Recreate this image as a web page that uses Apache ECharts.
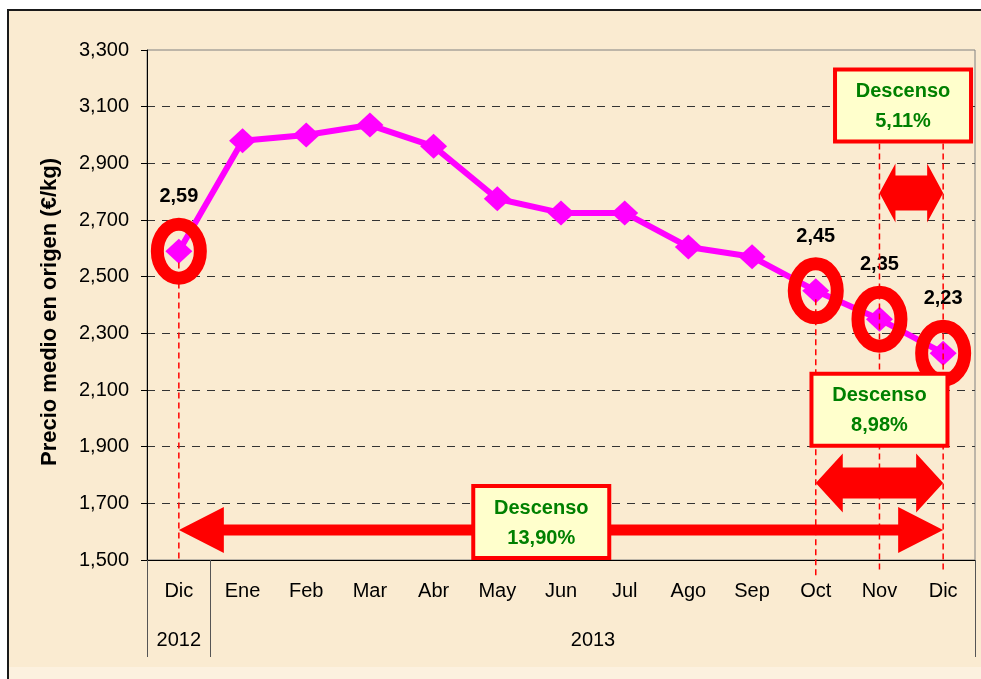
<!DOCTYPE html>
<html>
<head>
<meta charset="utf-8">
<script src="https://cdn.jsdelivr.net/npm/echarts@6/dist/echarts.min.js"></script>
<style>
  html, body { margin: 0; padding: 0; background: #fff; }
  #main { width: 981px; height: 679px; }
</style>
</head>
<body>
<div id="main"></div>
<script>
// datos
const months = ['Dic', 'Ene', 'Feb', 'Mar', 'Abr', 'May', 'Jun', 'Jul', 'Ago', 'Sep', 'Oct', 'Nov', 'Dic'];
const years = ['2012', '', '', '', '', '', '2013', '', '', '', '', '', ''];
const prices = [2.59, 2.98, 3.00, 3.035, 2.96, 2.775, 2.725, 2.725, 2.605, 2.57, 2.45, 2.35, 2.23];
const yMin = 1.5, yMax = 3.3, yStep = 0.2;
const markedIdx = [0, 10, 11, 12];
// guias verticales: [categoria, valor arriba, valor abajo]
const guides = [[0, 2.55, 1.493], [10, 2.42, 1.444], [11, 2.97, 1.458], [12, 2.97, 1.465]];
// flechas: [desde, hasta, valor]
const arrows = [[0, 12, 1.606], [10, 12, 1.772], [11, 12, 2.795]];
// cuadros: [posicion categoria, valor, texto]
const boxes = [[5.69, 1.634, '13,90%'], [11, 2.03, '8,98%'], [11.37, 3.104, '5,11%']];

const fmt = (v, d) => v.toFixed(d).replace('.', ',');
const FONT = '"Liberation Sans", Arial, sans-serif';

// punto en pixeles (admite posiciones entre categorias)
function pt(api, pos, val) {
  const i = Math.floor(pos), f = pos - i;
  const a = api.coord([i, val]);
  if (!f) return a;
  const b = api.coord([i + 1, val]);
  return [a[0] + (b[0] - a[0]) * f, a[1]];
}

const arrowStyle = [
  { shaft: 11, head: 45, width: 46 },
  { shaft: 31, head: 27, width: 59 },
  { shaft: 35, head: 16, width: 59 }
];

let chart = echarts.init(document.getElementById('main'));
let option = {
  animation: false,
  graphic: [
    {
      type: 'rect', z: -10, silent: true,
      shape: { x: 8, y: 10, width: 1000, height: 700 },
      style: { fill: '#FAEBD1', stroke: '#1a1a1a', lineWidth: 2 }
    },
    {
      type: 'rect', z: -9, silent: true,
      shape: { x: 9, y: 667, width: 1000, height: 20 },
      style: { fill: '#FCF1DF' }
    }
  ],
  grid: {
    left: 147, right: 6, top: 50, bottom: 119,
    show: true, borderColor: '#808080', borderWidth: 1
  },
  xAxis: [
    {
      type: 'category',
      data: months,
      axisLine: { lineStyle: { color: '#000', width: 1 } },
      axisTick: { length: 46, lineStyle: { color: '#555' } },
      axisLabel: { interval: 0, margin: 21, color: '#000', fontSize: 20, fontFamily: FONT }
    },
    {
      type: 'category',
      data: years,
      position: 'bottom',
      axisLine: { show: false },
      axisTick: { show: true, length: 97, interval: (i) => i === 0 || i === 1, lineStyle: { color: '#555' } },
      axisLabel: {
        interval: 0, margin: 70, color: '#000', fontSize: 20, fontFamily: FONT,
        formatter: (v) => v === '2013' ? '{s|2013}' : v,
        rich: { s: { padding: [0, 0, 0, 64], fontSize: 20, fontFamily: FONT, color: '#000' } }
      }
    }
  ],
  yAxis: {
    type: 'value',
    min: yMin, max: yMax, interval: yStep,
    name: 'Precio medio en origen (€/kg)',
    nameLocation: 'middle',
    nameRotate: 90,
    nameGap: 86,
    nameTextStyle: { fontSize: 22, fontWeight: 'bold', color: '#000', fontFamily: FONT, padding: [0, 14, 0, 0] },
    axisLine: { show: true, lineStyle: { color: '#000', width: 1 } },
    axisTick: { show: true, length: 6, lineStyle: { color: '#000' } },
    axisLabel: { margin: 18, color: '#000', fontSize: 20, fontFamily: FONT, formatter: (v) => fmt(v, 3) },
    splitLine: { showMinLine: false, showMaxLine: false, lineStyle: { color: '#333', type: [8, 7], width: 1 } }
  },
  series: [
    {
      name: 'Precio',
      type: 'line',
      z: 2,
      data: prices.map((v, i) => markedIdx.includes(i) ? { value: v, label: { show: true } } : v),
      lineStyle: { color: '#FF00FF', width: 6 },
      itemStyle: { color: '#FF00FF' },
      symbol: 'diamond',
      symbolSize: [27, 25],
      label: {
        show: false, position: 'top', distance: 32,
        color: '#000', fontSize: 20, fontWeight: 'bold', fontFamily: FONT,
        formatter: (p) => fmt(p.value, 2)
      }
    },
    {
      // elipses rojas
      type: 'custom',
      z: 3,
      data: markedIdx.map(i => [i, prices[i]]),
      encode: { x: 0, y: 1 },
      renderItem: function (params, api) {
        const c = api.coord([api.value(0), api.value(1)]);
        return {
          type: 'ellipse',
          shape: { cx: c[0], cy: c[1], rx: 21.5, ry: 27 },
          style: { fill: 'none', stroke: '#FF0000', lineWidth: 13 }
        };
      }
    },
    {
      // lineas verticales discontinuas
      type: 'custom',
      z: 4,
      data: guides.map(g => [g[0], g[1]]),
      encode: { x: 0, y: 1 },
      renderItem: function (params, api) {
        const g = guides[params.dataIndex];
        const a = api.coord([g[0], g[1]]);
        const b = api.coord([g[0], g[2]]);
        return {
          type: 'line',
          shape: { x1: a[0], y1: a[1], x2: b[0], y2: b[1] },
          style: { stroke: '#FF0000', lineWidth: 1.5, lineDash: [6, 4] }
        };
      }
    },
    {
      // flechas
      type: 'custom',
      z: 5,
      data: arrows.map(a => [a[0], a[2]]),
      encode: { x: 0, y: 1 },
      renderItem: function (params, api) {
        const a = arrows[params.dataIndex];
        const st = arrowStyle[params.dataIndex];
        const p0 = api.coord([a[0], a[2]]);
        const p1 = api.coord([a[1], a[2]]);
        const x0 = p0[0], x1 = p1[0], y = p0[1];
        const s = st.shaft / 2, h = st.width / 2, L = st.head;
        return {
          type: 'polygon',
          shape: {
            points: [
              [x0, y], [x0 + L, y - h], [x0 + L, y - s], [x1 - L, y - s], [x1 - L, y - h],
              [x1, y], [x1 - L, y + h], [x1 - L, y + s], [x0 + L, y + s], [x0 + L, y + h]
            ]
          },
          style: { fill: '#FF0000' }
        };
      }
    },
    {
      // cuadros de texto
      type: 'custom',
      z: 6,
      data: boxes.map(b => [Math.floor(b[0]), b[1]]),
      encode: { x: 0, y: 1 },
      renderItem: function (params, api) {
        const b = boxes[params.dataIndex];
        const c = pt(api, b[0], b[1]);
        return {
          type: 'group',
          children: [
            {
              type: 'rect',
              shape: { x: c[0] - 68, y: c[1] - 36, width: 136, height: 72 },
              style: { fill: '#FFFFCC', stroke: '#FF0000', lineWidth: 4 }
            },
            {
              type: 'text', x: c[0], y: c[1] - 14,
              style: { text: 'Descenso', fill: '#008000', font: 'bold 20px ' + FONT, align: 'center', verticalAlign: 'middle' }
            },
            {
              type: 'text', x: c[0], y: c[1] + 16,
              style: { text: b[2], fill: '#008000', font: 'bold 20px ' + FONT, align: 'center', verticalAlign: 'middle' }
            }
          ]
        };
      }
    }
  ]
};
chart.setOption(option);
</script>
</body>
</html>
